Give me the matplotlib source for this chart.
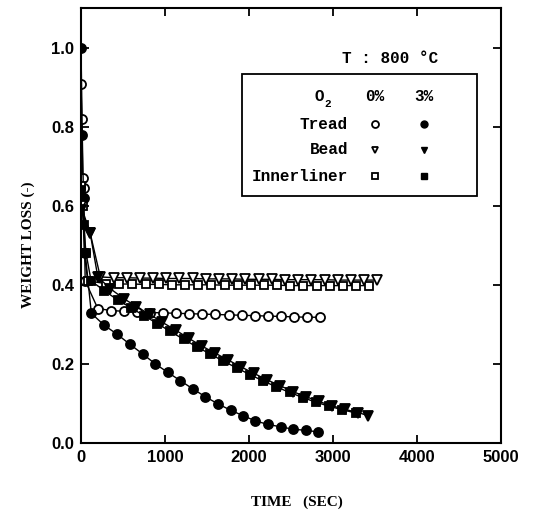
import matplotlib
matplotlib.use("Agg")
import matplotlib.pyplot as plt

# tread
tread_0_t = [0, 10, 20, 30, 50, 200, 356, 511, 667, 823, 978, 1134, 1289, 1445,
             1601, 1756, 1912, 2067, 2223, 2379, 2534, 2690, 2846]
tread_0_w = [0.907, 0.82, 0.67, 0.645, 0.41, 0.34, 0.335, 0.333, 0.331, 0.33, 0.329,
             0.328, 0.327, 0.326, 0.325, 0.324, 0.323, 0.322, 0.321, 0.32, 0.319,
             0.318, 0.318]
tread_3_t = [0, 15, 30, 50, 123, 275, 430, 580, 735, 885, 1030, 1180, 1330, 1480,
             1630, 1780, 1930, 2075, 2225, 2375, 2520, 2675, 2827]
tread_3_w = [1.0, 0.78, 0.62, 0.48, 0.328, 0.298, 0.275, 0.25, 0.225, 0.2, 0.179,
             0.158, 0.137, 0.117, 0.099, 0.083, 0.069, 0.056, 0.047, 0.041, 0.035,
             0.032, 0.028]

# bead
bead_0_t = [0, 110, 230, 387, 544, 701, 858, 1015, 1172, 1329, 1486, 1643, 1800,
            1957, 2114, 2271, 2428, 2585, 2742, 2899, 3056, 3213, 3370, 3527]
bead_0_w = [0.6, 0.53, 0.42, 0.418, 0.418, 0.417, 0.417, 0.416, 0.416, 0.416, 0.415,
            0.415, 0.415, 0.414, 0.414, 0.414, 0.413, 0.413, 0.413, 0.413, 0.412,
            0.412, 0.412, 0.412]
bead_3_t = [0, 110, 200, 350, 510, 660, 820, 970, 1130, 1280, 1440, 1590, 1750,
            1900, 2060, 2210, 2370, 2520, 2680, 2830, 2990, 3140, 3300, 3420]
bead_3_w = [0.59, 0.53, 0.42, 0.39, 0.365, 0.345, 0.325, 0.305, 0.285, 0.265, 0.245,
            0.228, 0.21, 0.193, 0.176, 0.16, 0.145, 0.13, 0.117, 0.105, 0.094,
            0.085, 0.077, 0.069]

# innerliner
inner_0_t = [0, 20, 40, 80, 300, 457, 613, 770, 926, 1083, 1239, 1396, 1552, 1709,
             1865, 2022, 2178, 2335, 2491, 2648, 2804, 2961, 3117, 3274, 3430]
inner_0_w = [0.65, 0.6, 0.48, 0.41, 0.403, 0.402, 0.402, 0.401, 0.401, 0.4, 0.4,
             0.4, 0.4, 0.399, 0.399, 0.399, 0.399, 0.399, 0.398, 0.398, 0.398,
             0.398, 0.398, 0.398, 0.398]
inner_3_t = [0, 30, 60, 120, 278, 435, 593, 750, 908, 1065, 1223, 1380, 1538, 1695,
             1853, 2010, 2168, 2325, 2483, 2640, 2798, 2955, 3113, 3270]
inner_3_w = [0.64, 0.55, 0.48, 0.41, 0.385, 0.362, 0.342, 0.322, 0.302, 0.282, 0.262,
             0.243, 0.225, 0.207, 0.19, 0.173, 0.157, 0.142, 0.128, 0.115, 0.103,
             0.093, 0.084, 0.076]

x_ticks = [0, 1000, 2000, 3000, 4000, 5000]
y_ticks = [0.0, 0.2, 0.4, 0.6, 0.8, 1.0]

TICK_FONT = {"family": "Liberation Sans", "weight": "bold", "size": 12}
LABEL_FONT = {"family": "Liberation Serif", "weight": "bold", "size": 11}
LEG_FONT = {"family": "Liberation Mono", "weight": "bold", "size": 11.5}
SUB_FONT = {"family": "Liberation Mono", "weight": "bold", "size": 8}
MARKER_SIZE = {"o": 6.5, "s": 5.5, "v": 6.5}

series = [
    (tread_0_t, tread_0_w, "o", "white"),
    (tread_3_t, tread_3_w, "o", "black"),
    (inner_0_t, inner_0_w, "s", "white"),
    (inner_3_t, inner_3_w, "s", "black"),
    (bead_0_t, bead_0_w, "v", "white"),
    (bead_3_t, bead_3_w, "v", "black"),
]

fig = plt.figure(figsize=(5.38, 5.16), dpi=100)
ax = fig.add_axes([81 / 538, 73 / 516, 420 / 538, 435 / 516])

for t, w, marker, face in series:
    ax.plot(t, w, "-", color="black", linewidth=1.0, marker=marker,
            markersize=MARKER_SIZE[marker], markerfacecolor=face,
            markeredgecolor="black", markeredgewidth=1.3)

ax.set_xlim(0, 5000)
ax.set_ylim(0, 1.1)
ax.set_xticks(x_ticks)
ax.set_yticks(y_ticks)
ax.set_xticklabels([str(v) for v in x_ticks], fontdict=TICK_FONT)
ax.set_yticklabels([f"{v:.1f}" for v in y_ticks], fontdict=TICK_FONT)
ax.tick_params(direction="in", length=6, width=1.3, top=True, right=True, pad=5)
for spine in ax.spines.values():
    spine.set_linewidth(1.5)

ax.set_xlabel("TIME   (SEC)", fontdict=LABEL_FONT)
ax.set_ylabel("WEIGHT LOSS (-)", fontdict=LABEL_FONT)
ax.xaxis.set_label_coords(0.514, -0.12)
ax.yaxis.set_label_coords(-0.11, 0.455)

# legend box drawn by hand
ax.text(3680, 0.972, "T : 800 °C", ha="center", va="center", fontdict=LEG_FONT)
ax.add_patch(plt.Rectangle((1917, 0.625), 2800, 0.309, fill=False,
                           edgecolor="black", linewidth=1.3))
col_lab, col_0, col_3 = 3180, 3500, 4080
ax.text(2890, 0.876, "O", ha="right", va="center", fontdict=LEG_FONT)
ax.text(2900, 0.858, "2", ha="left", va="center", fontdict=SUB_FONT)
ax.text(col_0, 0.876, "0%", ha="center", va="center", fontdict=LEG_FONT)
ax.text(col_3, 0.876, "3%", ha="center", va="center", fontdict=LEG_FONT)
rows = [("Tread", "o", 0.806), ("Bead", "v", 0.741), ("Innerliner", "s", 0.675)]
for name, marker, yy in rows:
    ax.text(col_lab, yy, name, ha="right", va="center", fontdict=LEG_FONT)
    ax.plot([col_0], [yy], marker=marker, markersize=5, markerfacecolor="white",
            markeredgecolor="black", markeredgewidth=1.3, linestyle="none")
    ax.plot([col_3], [yy], marker=marker, markersize=5, markerfacecolor="black",
            markeredgecolor="black", linestyle="none")

fig.savefig("out.png", dpi=100)
